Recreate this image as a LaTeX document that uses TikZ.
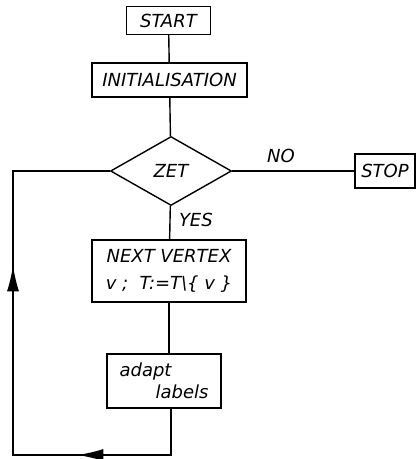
\documentclass[tikz,border=0pt]{standalone}
\usepackage{fontspec}
\setmainfont{DejaVu Sans}
\usetikzlibrary{shapes.geometric,arrows.meta,decorations.markings}

\begin{document}
\begin{tikzpicture}[x=1pt, y=-1pt, line width=1.4pt,
  every node/.style={font=\itshape\fontsize{18}{27}\selectfont},
  box/.style={draw, rectangle, inner sep=0pt},
  test/.style={draw, diamond, inner sep=0pt, minimum width=121pt, minimum height=69pt},
  back/.style={postaction={decorate}, decoration={markings,
    mark=at position 140pt with {\arrow{Latex[length=26pt,width=12pt]}},
    mark=at position 394pt with {\arrow{Latex[length=26pt,width=12pt]}}}}]

\useasboundingbox (0,0) rectangle (419,459);

% Flowchart boxes
\node[box, minimum width=84pt, minimum height=28pt] (start) at (168.5,20.5) {START};
\node[box, minimum width=155pt, minimum height=34pt] (init) at (169.5,80) {INITIALISATION};
\node[test] (zet) at (171,171) {ZET};
\node[box, minimum width=60pt, minimum height=34pt] (stop) at (385,171) {STOP};
\node[box, minimum width=154pt, minimum height=62pt, align=center] (next) at (169,271)
  {NEXT VERTEX\\v ;\ \ T:=T\textbackslash\{ v \}};
\node[box, minimum width=114pt, minimum height=54pt, align=left,
  font=\itshape\fontsize{18}{22}\selectfont] (adapt) at (164,381)
  {adapt\\\hspace*{2em}labels};

% Connections
\draw (start) -- (init);
\draw (init) -- (zet);
\draw (zet) -- (stop) node[pos=0.4, above=4pt] {NO};
\draw (zet) -- (next) node[midway, right=5pt, yshift=3pt] {YES};
\draw (next) -- (next.south |- adapt.north);

% Return loop
\coordinate (br) at (171,455);
\coordinate (bl) at (13,455);
\draw[back] (adapt.south -| br) -- (br) -- (bl) -- (bl |- zet) -- (zet.west);

\end{tikzpicture}
\end{document}
